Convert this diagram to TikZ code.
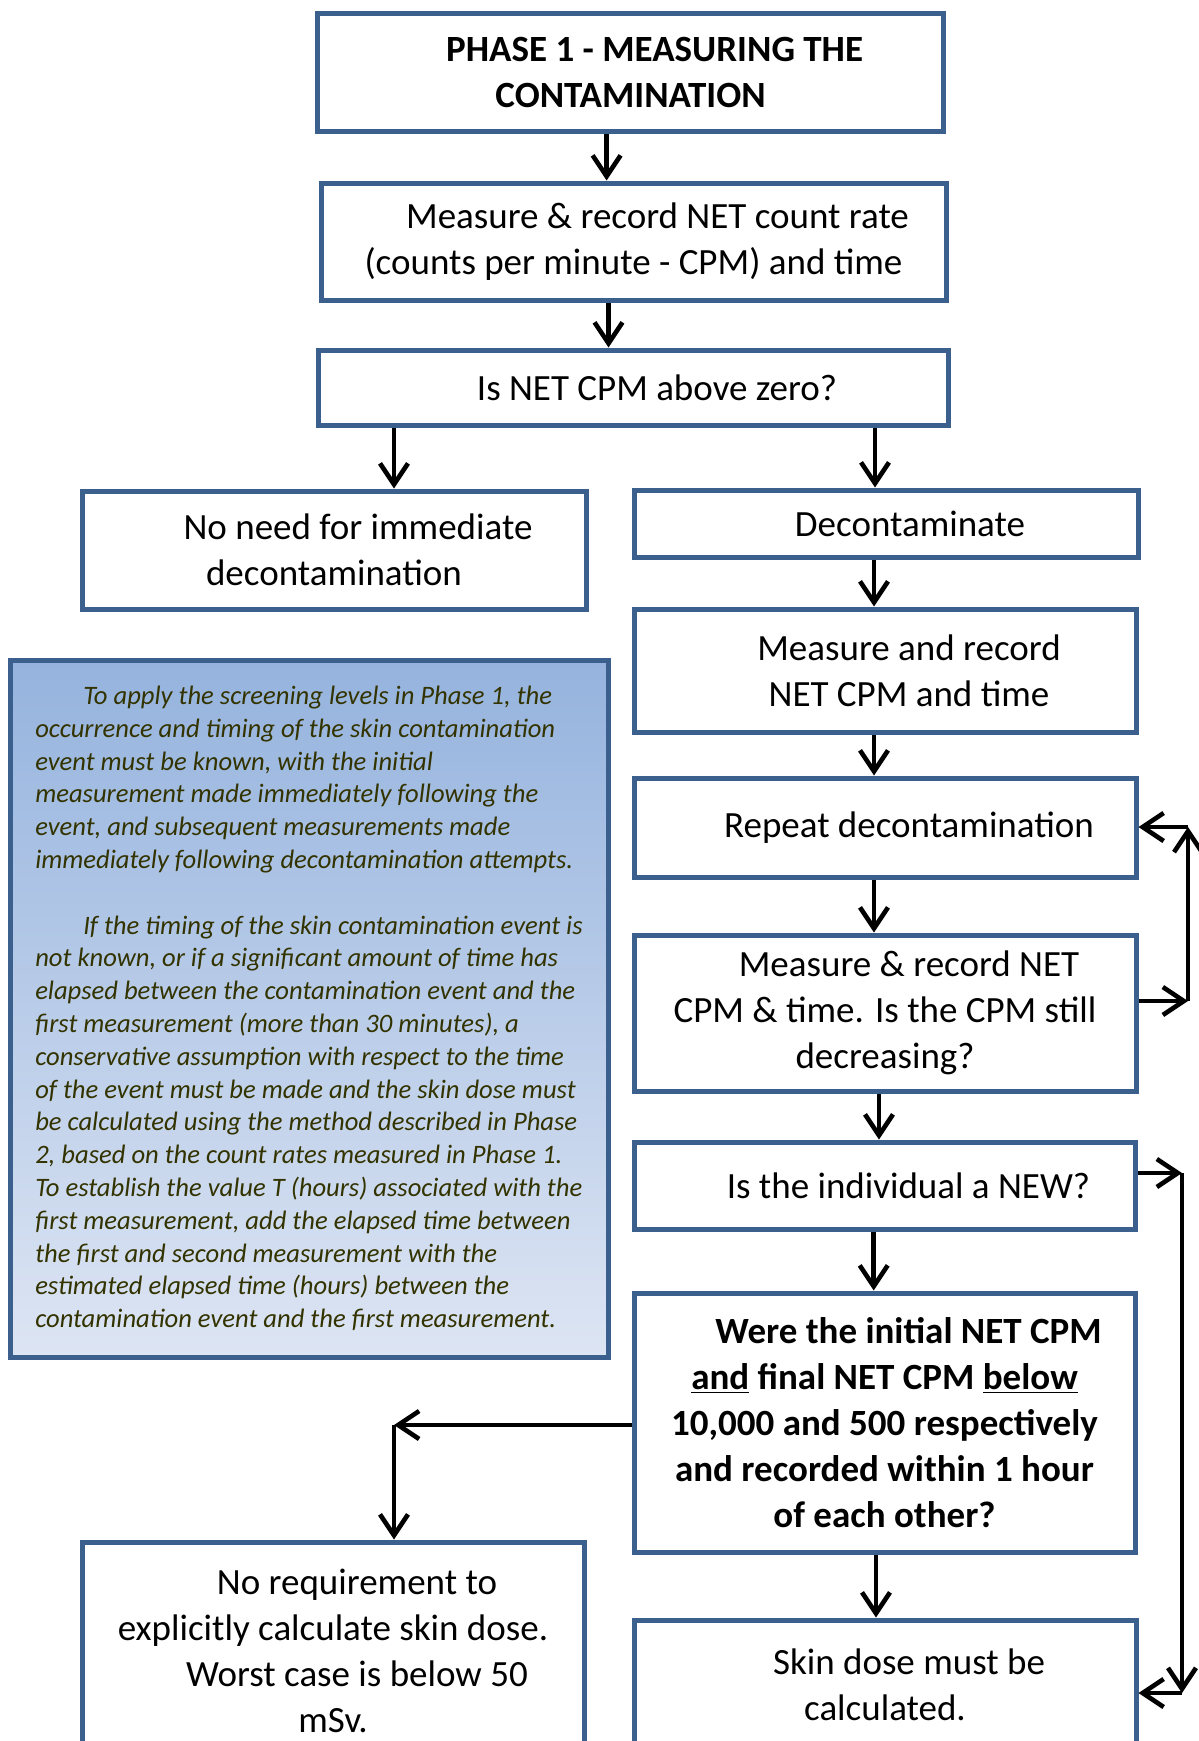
\documentclass[tikz,border=0pt]{standalone}
\usepackage{fontspec}
\setmainfont{Carlito}
\usepackage{xcolor}
\usepackage{tikz}
\usetikzlibrary{positioning, shapes, arrows.meta}

\definecolor{boxblue}{RGB}{60,96,142}
\definecolor{notetop}{RGB}{149,179,222}
\definecolor{notebot}{RGB}{221,229,243}
\definecolor{noteink}{RGB}{51,51,0}
\newcommand{\tabin}{\hspace*{24pt}}

\begin{document}
\begin{tikzpicture}[x=0.5pt, y=-0.5pt,
  flowbox/.style={rectangle, draw=boxblue, line width=2.5pt, fill=white,
                  align=center, inner sep=0pt,
                  font=\fontsize{18.5}{23}\selectfont},
  notebox/.style={rectangle, draw=boxblue, line width=2.5pt,
                  top color=notetop, bottom color=notebot,
                  align=left, inner sep=0pt, text=noteink,
                  font=\itshape\fontsize{13.3}{16.4}\selectfont},
  flowarrow/.style={-{Straight Barb[length=10.5pt,width=14pt]}, line width=2.3pt}]
\useasboundingbox (0,0) rectangle (1199,1741);
\clip (0,0) rectangle (1199,1741);

% left side and top
\node[flowbox, minimum width=313pt,   minimum height=59pt,   font=\bfseries\fontsize{18.5}{23}\selectfont]
  (b1)  at (630.6,72)    {\tabin PHASE 1 - MEASURING THE\\ CONTAMINATION};
\node[flowbox, minimum width=312.5pt, minimum height=58.5pt] (b2)  at (633.5,241.5)
  {\tabin Measure \& record NET count rate\\ (counts per minute - CPM) and time};
\node[flowbox, minimum width=315pt,   minimum height=37.5pt] (b3)  at (633,387.5)
  {\tabin Is NET CPM above zero?};
\node[flowbox, minimum width=252pt,   minimum height=59pt]   (b4)  at (334,550)
  {\tabin No need for immediate\\ decontamination};
\node[notebox, minimum width=299pt,   minimum height=348.5pt] (note) at (309,1008.5)
  {\tabin To apply the screening levels in Phase 1, the\\
   occurrence and timing of the skin contamination\\
   event must be known, with the initial\\
   measurement made immediately following the\\
   event, and subsequent measurements made\\
   immediately following decontamination attempts.\\[16.4pt]
   \tabin If the timing of the skin contamination event is\\
   not known, or if a significant amount of time has\\
   elapsed between the contamination event and the\\
   first measurement (more than 30 minutes), a\\
   conservative assumption with respect to the time\\
   of the event must be made and the skin dose must\\
   be calculated using the method described in Phase\\
   2, based on the count rates measured in Phase 1.\\
   To establish the value T (hours) associated with the\\
   first measurement, add the elapsed time between\\
   the first and second measurement with the\\
   estimated elapsed time (hours) between the\\
   contamination event and the first measurement.};
\node[flowbox, minimum width=251pt,   minimum height=109pt]  (b11) at (333,1651)
  {\tabin No requirement to\\ explicitly calculate skin dose.\\ \tabin Worst case is below 50\\ mSv.};

% right column
\node[flowbox, minimum width=252pt,   minimum height=33.5pt] (b5)  at (886,523.5)
  {\tabin Decontaminate};
\node[flowbox, minimum width=251pt,   minimum height=61.5pt] (b6)  at (885,670.5)
  {\tabin Measure and record\\ \tabin NET CPM and time};
\node[flowbox, minimum width=251pt,   minimum height=49.5pt] (b7)  at (885,827.5)
  {\tabin Repeat decontamination};
\node[flowbox, minimum width=251pt,   minimum height=78pt]   (b8)  at (885,1013)
  {\tabin Measure \& record NET\\ CPM \& time. Is the CPM still\\ decreasing?};
\node[flowbox, minimum width=250.5pt, minimum height=43.5pt] (b9)  at (884.5,1185.5)
  {\tabin Is the individual a NEW?};
\node[flowbox, minimum width=250.5pt, minimum height=129.5pt, font=\bfseries\fontsize{18.5}{23}\selectfont]
  (b10) at (884.5,1422.5)
  {\tabin Were the initial NET CPM\\ \underline{and} final NET CPM \underline{below}\\
   10,000 and 500 respectively\\ and recorded within 1 hour\\ of each other?};
\node[flowbox, minimum width=251pt,   minimum height=65pt]   (b12) at (885,1685)
  {\tabin Skin dose must be\\ calculated.};

% bends
\coordinate (turn)   at (394,1425);
\coordinate (rpttop) at (1188,827);
\coordinate (rptbot) at (1188,1001);
\coordinate (newtop) at (1182,1173);
\coordinate (newbot) at (1182,1693);

% arrows
\draw[flowarrow] ([xshift=-12pt]b1.south)   -- ([xshift=-12pt]b1.south |- b2.north);
\draw[flowarrow] ([xshift=-12.5pt]b2.south) -- ([xshift=-12.5pt]b2.south |- b3.north);
\draw[flowarrow] ([xshift=30pt]b4.north |- b3.south)  -- ([xshift=30pt]b4.north);
\draw[flowarrow] ([xshift=-5.5pt]b5.north |- b3.south) -- ([xshift=-5.5pt]b5.north);
\draw[flowarrow] ([xshift=-6pt]b5.south)    -- ([xshift=-6pt]b5.south |- b6.north);
\draw[flowarrow] ([xshift=-5.5pt]b6.south)  -- ([xshift=-5.5pt]b6.south |- b7.north);
\draw[flowarrow] ([xshift=-5.5pt]b7.south)  -- ([xshift=-5.5pt]b7.south |- b8.north);
\draw[flowarrow] ([xshift=-3pt]b8.south)    -- ([xshift=-3pt]b8.south |- b9.north);
\draw[flowarrow] ([xshift=-5.4pt]b9.south)  -- ([xshift=-5.4pt]b9.south |- b10.north);
\draw[flowarrow] ([xshift=-4.25pt]b10.south) -- ([xshift=-4.25pt]b10.south |- b12.north);
\draw[flowarrow] (b10.west |- turn) -- (turn);
\draw[flowarrow] (turn) -- (turn |- b11.north);
\draw[flowarrow] (b8.east |- rptbot) -- (rptbot);
\draw[flowarrow] (rptbot) -- (rpttop);
\draw[flowarrow] (rpttop) -- (b7.east |- rpttop);
\draw[flowarrow] (b9.east |- newtop) -- (newtop);
\draw[flowarrow] (newtop) -- (newbot);
\draw[flowarrow] (newbot) -- (b12.east |- newbot);
\end{tikzpicture}
\end{document}
